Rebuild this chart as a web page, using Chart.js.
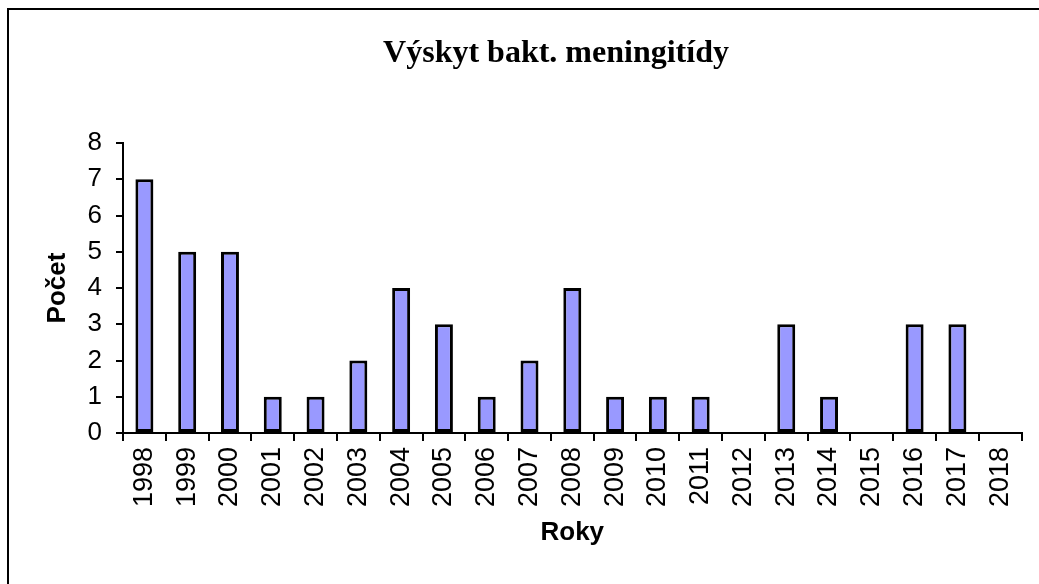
<!DOCTYPE html>
<html>
<head>
<meta charset="utf-8">
<script src="https://cdn.jsdelivr.net/npm/chart.js@4/dist/chart.umd.min.js"></script>
<style>
html,body{margin:0;padding:0;background:#fff;}
#wrap{width:1039px;height:584px;position:relative;}
</style>
</head>
<body>
<div id="wrap"><canvas id="c" width="1039" height="584"></canvas></div>
<script>
const years = ['1998','1999','2000','2001','2002','2003','2004','2005','2006','2007','2008','2009','2010','2011','2012','2013','2014','2015','2016','2017','2018'];
const counts = [7,5,5,1,1,2,4,3,1,2,4,1,1,1,0,3,1,0,3,3,0];
const chartTitle = 'Výskyt bakt. meningitídy';
const yTitle = 'Počet';
const xTitle = 'Roky';

const framePlugin = {
  id: 'frame',
  beforeDraw(chart) {
    const ctx = chart.ctx;
    ctx.save();
    ctx.fillStyle = '#fff';
    ctx.fillRect(0, 0, chart.width, chart.height);
    ctx.strokeStyle = '#000';
    ctx.lineWidth = 2;
    ctx.strokeRect(8, 9, 1200, 800);
    ctx.fillStyle = '#000';
    ctx.font = 'bold 32px "Liberation Serif", "Times New Roman", serif';
    ctx.textAlign = 'center';
    ctx.textBaseline = 'middle';
    ctx.fillText(chartTitle, 556, 54);
    ctx.restore();
  }
};

new Chart(document.getElementById('c'), {
  type: 'bar',
  data: {
    labels: years,
    datasets: [{
      data: counts,
      backgroundColor: '#9999FF',
      borderColor: '#000',
      borderWidth: 3,
      borderSkipped: false,
      barPercentage: 0.42,
      categoryPercentage: 1
    }]
  },
  options: {
    responsive: false,
    animation: false,
    layout: { padding: { top: 143, left: 0, right: 17, bottom: 0 } },
    plugins: {
      legend: { display: false },
      tooltip: { enabled: false },
      title: { display: false }
    },
    scales: {
      x: {
        offset: true,
        afterFit(s) { s.height = 151; },
        grid: { display: true, offset: true, drawOnChartArea: false, drawTicks: true, tickLength: 8, color: '#000', lineWidth: 2 },
        border: { display: true, color: '#000', width: 2 },
        ticks: {
          color: '#000',
          minRotation: 90, maxRotation: 90, autoSkip: false, padding: 6,
          font: { family: '"Liberation Sans", Arial, sans-serif', size: 27 }
        },
        title: {
          display: true, text: xTitle, color: '#000',
          font: { family: '"Liberation Sans", Arial, sans-serif', size: 26, weight: 'bold' },
          padding: { top: 0, bottom: 36 }
        }
      },
      y: {
        min: 0, max: 8,
        afterFit(s) { s.width = 123; },
        grid: { display: true, drawOnChartArea: false, drawTicks: true, tickLength: 7, color: '#000', lineWidth: 2 },
        border: { display: true, color: '#000', width: 2 },
        ticks: {
          stepSize: 1, color: '#000', padding: 14,
          font: { family: '"Liberation Sans", Arial, sans-serif', size: 26 }
        },
        title: {
          display: true, text: yTitle, color: '#000',
          font: { family: '"Liberation Sans", Arial, sans-serif', size: 26, weight: 'bold' },
          padding: { top: 42, bottom: 0 }
        }
      }
    }
  },
  plugins: [framePlugin]
});
</script>
</body>
</html>
